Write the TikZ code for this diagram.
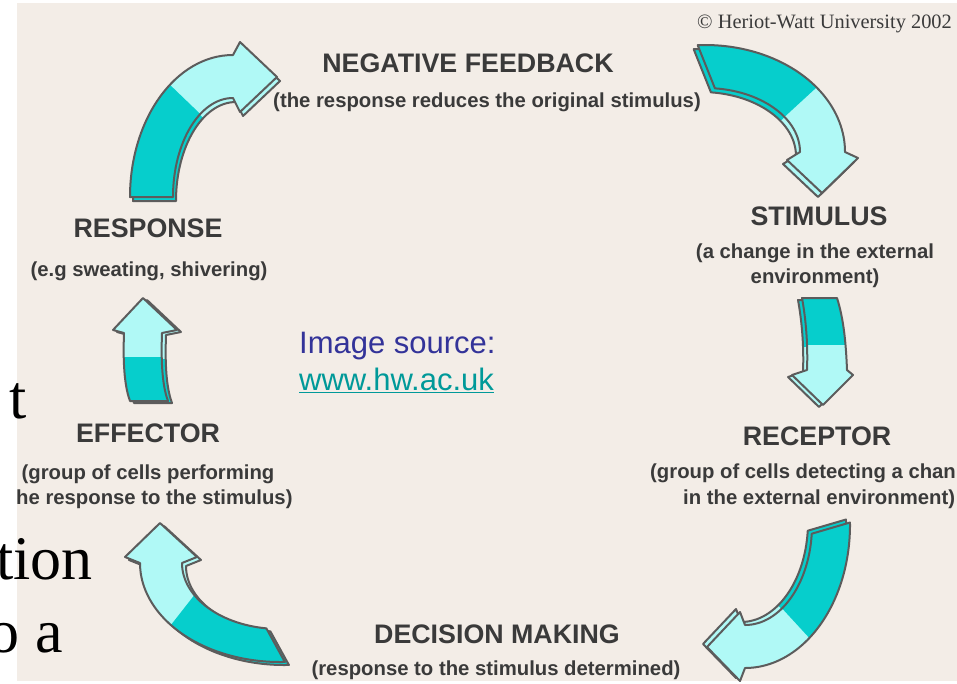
\documentclass[tikz,border=0pt]{standalone}
\usepackage{fontspec}
\setmainfont{Liberation Serif}
\setsansfont{Liberation Sans}
\definecolor{beige}{RGB}{243,237,231}
\definecolor{darkteal}{RGB}{6,206,204}
\definecolor{lightteal}{RGB}{176,249,246}
\definecolor{outl}{RGB}{92,92,92}
\definecolor{labelc}{RGB}{58,58,58}
\definecolor{srcblue}{RGB}{51,51,153}
\definecolor{urlteal}{RGB}{0,153,153}
\tikzset{
  heading/.style={font=\sffamily\bfseries\fontsize{26.8}{30}\selectfont, text=labelc, anchor=base, inner sep=0pt},
  subtext/.style={font=\sffamily\bfseries\fontsize{20.3}{24}\selectfont, text=labelc, anchor=base, inner sep=0pt},
  slidetext/.style={font=\fontsize{62}{70}\selectfont, text=black, anchor=base east, inner sep=0pt},
  srctext/.style={font=\sffamily\fontsize{31}{35}\selectfont, anchor=base west, inner sep=0pt},
  arrowline/.style={draw=outl, line width=2pt, line join=round},
}
% #1 centre, #2 outline path, #3 dark region path, #4 extrusion offset
\newcommand\tealarrow[4]{%
  \begin{scope}[shift={#1}]
    \begin{scope}[shift={#4}]
      \fill[lightteal] #2;
      \begin{scope}\clip #2; \fill[darkteal] #3;\end{scope}
      \path[arrowline] #2;
    \end{scope}
    \fill[lightteal] #2;
    \begin{scope}\clip #2; \fill[darkteal] #3;\end{scope}
    \path[arrowline] #2;
  \end{scope}}
\begin{document}
\begin{tikzpicture}[x=1pt,y=1pt]
\useasboundingbox (0,0) rectangle (957,-683);
\fill[white] (0,0) rectangle (957,-683);
\fill[beige] (17,-3) rectangle (957,-681);

% arrow 1: response -> negative feedback
\tealarrow{(233,-197)}
 {(180:103pt and 142pt) arc[start angle=180,end angle=90,x radius=103pt,y radius=142pt] -- (7,155) -- (44,120) -- (7,85) -- (0,99) arc[start angle=90,end angle=180,x radius=60pt,y radius=99pt] -- cycle}
 {(-144,190) -- (38,15) -- (38,-50) -- (-200,-50) -- (-200,190) -- cycle}
 {(3,-4)}
% arrow 2: negative feedback -> stimulus
\tealarrow{(705,-152)}
 {(93:140pt and 107pt) arc[start angle=93,end angle=0,x radius=140pt,y radius=107pt] -- (153,-6) -- (117,-41) -- (82,-8) -- (95,0) arc[start angle=0,end angle=84,x radius=95pt,y radius=64pt] -- cycle}
 {(12,-27) -- (187,134) -- (-100,134) -- (-100,-27) -- cycle}
 {(-4,-4)}
% arrow 3: stimulus -> receptor
\tealarrow{(822,-350)}
 {(-20,52) -- (15,52) .. controls (22,30) and (24,5) .. (25,-20) -- (31,-25) -- (1,-55) -- (-30,-25) -- (-15,-20) .. controls (-14,5) and (-16,30) .. (-20,52) -- cycle}
 {(-60,5) rectangle (60,80)}
 {(-4,-2)}
% arrow 4: receptor -> decision making
\tealarrow{(745,-525)}
 {(1:105pt and 143pt) arc[start angle=1,end angle=-90,x radius=105pt,y radius=143pt] -- (-5,-156) -- (-38,-122) -- (-5,-87) -- (0,-100) arc[start angle=-90,end angle=-5,x radius=67pt,y radius=100pt] -- cycle}
 {(-24,-17) -- (137,-192) -- (200,-192) -- (200,50) -- (-24,50) -- cycle}
 {(-4,3)}
% arrow 5: decision making -> effector
\tealarrow{(280,-563)}
 {(272:140pt and 99pt) arc[start angle=272,end angle=180,x radius=140pt,y radius=99pt] -- (-155,6) -- (-120,40) -- (-83,6) -- (-98,0) arc[start angle=180,end angle=262,x radius=98pt,y radius=66pt] -- cycle}
 {(-167,-136) -- (-41,25) -- (60,25) -- (60,-136) -- cycle}
 {(4,-3)}
% arrow 6: effector -> response
\tealarrow{(143,-350)}
 {(-13,-51) .. controls (-19,-35) and (-20,-10) .. (-19,17) -- (-30,20) -- (0,52) -- (34,20) -- (19,17) .. controls (18,-10) and (19,-35) .. (25,-51) -- cycle}
 {(-60,-7) rectangle (60,-80)}
 {(4,-2)}

% labels
\node[font=\fontsize{20.4}{24}\selectfont, text=labelc, anchor=base west, inner sep=0pt] (copy) at (697,-28) {© Heriot-Watt University 2002};

\node[heading] (negfb) at (468,-72) {NEGATIVE FEEDBACK};
\node[subtext] (negfbsub) at (487,-107) {(the response reduces the original stimulus)};

\node[heading] (stim) at (819,-225) {STIMULUS};
\node[subtext] (stimsub1) at (815,-258) {(a change in the external};
\node[subtext] (stimsub2) at (815,-283) {environment)};

\node[heading] (rec) at (817,-445) {RECEPTOR};
\node[subtext, anchor=base west] (recsub1) at (650,-478) {(group of cells detecting a chan};
\node[subtext, anchor=base west] (recsub2) at (683,-504) {in the external environment)};

\node[heading] (dec) at (497,-643) {DECISION MAKING};
\node[subtext] (decsub) at (496,-675) {(response to the stimulus determined)};

\node[heading] (eff) at (148,-442) {EFFECTOR};
\node[subtext] (effsub1) at (148,-479) {(group of cells performing};
\node[subtext, anchor=base west] (effsub2) at (16,-504) {he response to the stimulus)};

\node[heading] (resp) at (148,-237) {RESPONSE};
\node[subtext] (respsub) at (149,-276) {(e.g sweating, shivering)};

\node[srctext, text=srcblue] (src) at (299,-353) {Image source:};
\node[srctext, text=urlteal] (url) at (299,-390) {\underline{www.hw.ac.uk}};

% cropped slide text on the left
\node[slidetext] (s1) at (27,-418) {t};
\node[slidetext] (s2) at (93,-579) {tion};
\node[slidetext] (s3) at (63,-652) {o a};
\end{tikzpicture}
\end{document}
